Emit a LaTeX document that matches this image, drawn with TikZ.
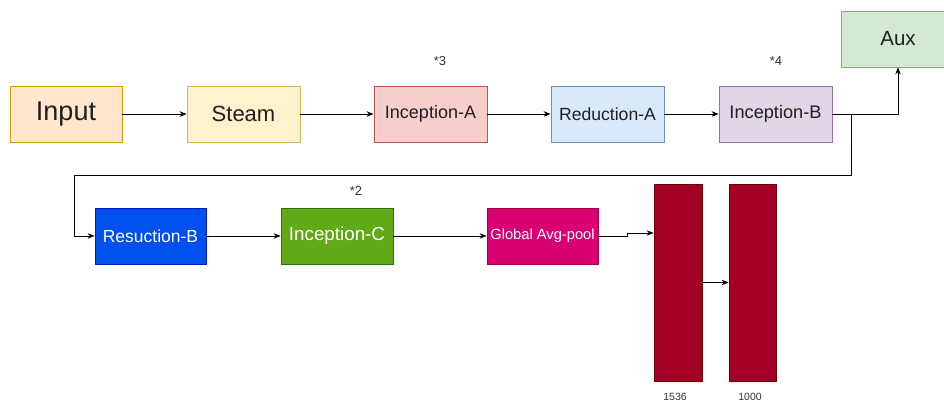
\documentclass[tikz,border=0pt]{standalone}
\usepackage{fontspec}
\setmainfont{Liberation Sans}
\usepackage{tikz}
\usetikzlibrary{positioning,arrows.meta}
\usepackage{xcolor}
\definecolor{inputfill}{HTML}{FFE6CC}
\definecolor{inputline}{HTML}{D79B00}
\definecolor{steamfill}{HTML}{FFF2CC}
\definecolor{steamline}{HTML}{D6B656}
\definecolor{redfill}{HTML}{F8CECC}
\definecolor{redline}{HTML}{B85450}
\definecolor{bluefill}{HTML}{DAE8FC}
\definecolor{blueline}{HTML}{6C8EBF}
\definecolor{violetfill}{HTML}{E1D5E7}
\definecolor{violetline}{HTML}{9673A6}
\definecolor{greenfill}{HTML}{D5E8D4}
\definecolor{greenline}{HTML}{82B366}
\definecolor{cobalt}{HTML}{0050EF}
\definecolor{cobaltline}{HTML}{001DBC}
\definecolor{leaf}{HTML}{60A917}
\definecolor{leafline}{HTML}{2D7600}
\definecolor{magenta}{HTML}{D80073}
\definecolor{magentaline}{HTML}{A50040}
\definecolor{crimson}{HTML}{A20025}
\definecolor{crimsonline}{HTML}{6F0000}

\begin{document}
\begin{tikzpicture}[
    x=1pt, y=-1pt,
    every node/.style={text=black!88},
    block/.style={draw, line width=0.8pt, minimum width=113pt, minimum height=56pt, inner sep=0pt},
    dark/.style={block, text=white},
    bar/.style={draw=crimsonline, fill=crimson, line width=0.8pt, minimum width=48pt, minimum height=197pt, inner sep=0pt},
    note/.style={font=\fontsize{13}{15}\selectfont, text=black!80},
    link/.style={-{Stealth[length=7pt,width=5.5pt]}, line width=0.8pt}
]
    \useasboundingbox (0,0) rectangle (944,402);

    % Prima riga
    \node[block, draw=inputline, fill=inputfill, minimum width=112pt, font=\fontsize{27}{30}\selectfont] (input) at (66,114) {Input};
    \node[block, draw=steamline, fill=steamfill, font=\fontsize{22}{25}\selectfont] (steam) at (243.5,114) {Steam};
    \node[block, draw=redline, fill=redfill, font=\fontsize{18}{21}\selectfont] (incA) at (430.5,114) {Inception-A};
    \node[block, draw=blueline, fill=bluefill, font=\fontsize{17.6}{20}\selectfont] (redA) at (607.5,114) {Reduction-A};
    \node[block, draw=violetline, fill=violetfill, font=\fontsize{18.2}{21}\selectfont] (incB) at (775.5,114) {Inception-B};
    \node[block, draw=greenline, fill=greenfill, font=\fontsize{20.5}{23}\selectfont] (aux) at (898,39) {Aux};

    % Ripetizioni
    \node[note] (repA) at (440,61) {*3};
    \node[note] (repB) at (776,61) {*4};
    \node[note] (repC) at (356,191) {*2};

    % Seconda riga
    \node[dark, draw=cobaltline, fill=cobalt, minimum width=111pt, font=\fontsize{17.5}{20}\selectfont] (resB) at (150.5,236) {Resuction-B};
    \node[dark, draw=leafline, fill=leaf, minimum width=112pt, font=\fontsize{18.8}{21}\selectfont] (incC) at (337,236) {Inception-C};
    \node[dark, draw=magentaline, fill=magenta, minimum width=111pt, font=\fontsize{14.7}{17}\selectfont] (gap) at (542.5,236) {Global Avg-pool};

    % Strati densi
    \node[bar] (fc1) at (678,282.5) {};
    \node[bar, minimum width=47pt] (fc2) at (752.5,282.5) {};
    \node[note, font=\fontsize{10.5}{12}\selectfont] (dim1) at (675,397) {1536};
    \node[note, font=\fontsize{10.5}{12}\selectfont] (dim2) at (750,397) {1000};

    % Punti di svolta
    \coordinate (split) at (851,114);
    \coordinate (loop) at (74,175);
    \coordinate (jog) at (627,233);

    % Connessioni
    \draw[link] (input) -- (steam);
    \draw[link] (steam) -- (incA);
    \draw[link] (incA) -- (redA);
    \draw[link] (redA) -- (incB);
    \draw[link] (incB.east) -| (aux.south);
    \draw[link] (split) |- (loop) |- (resB.west);
    \draw[link] (resB) -- (incC);
    \draw[link] (incC) -- (gap);
    \draw[link] (gap.east) -| (jog) -- (jog -| fc1.west);
    \draw[link] (fc1) -- (fc2);

\end{tikzpicture}
\end{document}
